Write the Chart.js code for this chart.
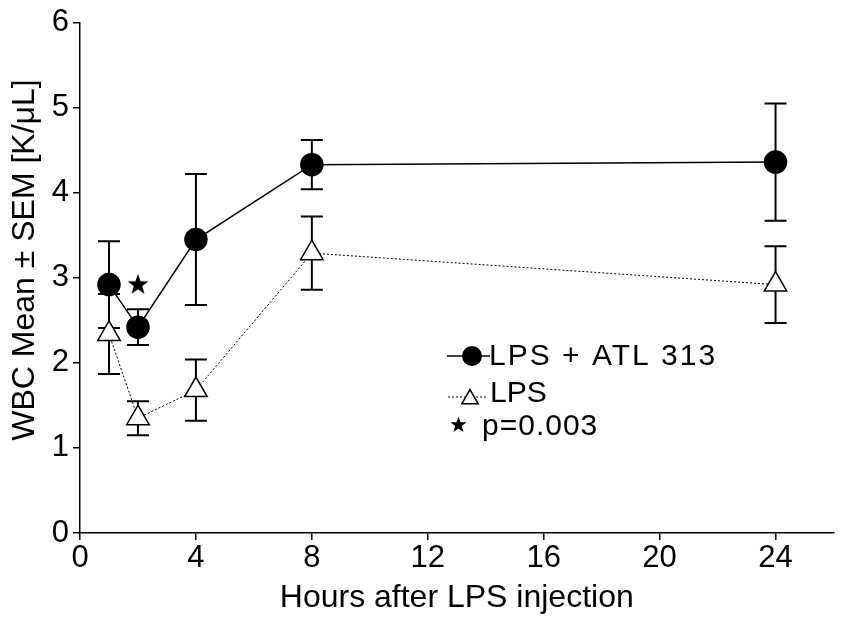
<!DOCTYPE html>
<html>
<head>
<meta charset="utf-8">
<script src="https://cdn.jsdelivr.net/npm/chart.js@4.4.0/dist/chart.umd.min.js"></script>
<style>
  html, body { margin: 0; padding: 0; background: #fff; }
  #wrap { width: 848px; height: 628px; }
</style>
</head>
<body>
<div id="wrap"><canvas id="myChart1"></canvas></div>
<script>
// data
let hours = [1, 2, 4, 8, 24];
let atlMean = [2.92, 2.42, 3.45, 4.33, 4.36];
let atlSem = [0.51, 0.21, 0.77, 0.29, 0.69];
let lpsMean = [2.34, 1.35, 1.68, 3.29, 2.92];
let lpsSem = [0.47, 0.2, 0.36, 0.43, 0.45];
let sigHour = [2];
let sigMark = [2.93];
let xTicks = [0, 4, 8, 12, 16, 20, 24];

const FONT = 'Liberation Sans, Arial, sans-serif';

function starPath(c, cx, cy, R) {
    let r = R * 0.4;
    c.beginPath();
    for (let i = 0; i < 10; i++) {
        let a = -Math.PI / 2 + i * Math.PI / 5;
        let rr = i % 2 === 0 ? R : r;
        let px = cx + Math.cos(a) * rr, py = cy + Math.sin(a) * rr;
        if (i === 0) c.moveTo(px, py); else c.lineTo(px, py);
    }
    c.closePath();
    c.fillStyle = '#000';
    c.fill();
}

let starImg = document.createElement('canvas');
starImg.width = 24; starImg.height = 24;
starPath(starImg.getContext('2d'), 12, 13, 11);

// error bars, drawn under the markers
const errorBars = {
    id: 'errorBars',
    beforeDatasetsDraw(chart) {
        let c = chart.ctx, xs = chart.scales.x, ys = chart.scales.y;
        c.save();
        c.strokeStyle = '#000';
        c.lineWidth = 2;
        [[atlMean, atlSem], [lpsMean, lpsSem]].forEach(([m, s]) => {
            hours.forEach((h, i) => {
                let px = xs.getPixelForValue(h);
                let top = ys.getPixelForValue(m[i] + s[i]);
                let bot = ys.getPixelForValue(m[i] - s[i]);
                c.beginPath();
                c.moveTo(px, top); c.lineTo(px, bot);
                c.moveTo(px - 11, top); c.lineTo(px + 11, top);
                c.moveTo(px - 11, bot); c.lineTo(px + 11, bot);
                c.stroke();
            });
        });
        c.restore();
    }
};

// y title (sits a little above the axis middle) and legend box
const extras = {
    id: 'extras',
    afterDraw(chart) {
        let c = chart.ctx;
        c.save();
        c.fillStyle = '#000';
        c.translate(25, 260);
        c.rotate(-Math.PI / 2);
        c.font = '32px ' + FONT;
        c.textAlign = 'center';
        c.textBaseline = 'middle';
        c.fillText('WBC Mean \u00b1 SEM [K/\u03bcL]', 0, 0);
        c.restore();

        c.save();
        c.strokeStyle = '#000';
        c.fillStyle = '#000';
        c.font = '30px ' + FONT;
        c.textBaseline = 'middle';
        // row 1
        c.lineWidth = 1.5;
        c.beginPath(); c.moveTo(447, 356); c.lineTo(490, 356); c.stroke();
        c.beginPath(); c.arc(472, 356, 10, 0, Math.PI * 2); c.fill();
        c.letterSpacing = '2px';
        c.fillText('LPS + ATL 313', 489, 357);
        c.letterSpacing = '0px';
        // row 2
        c.lineWidth = 1;
        c.setLineDash([2, 2]);
        c.beginPath(); c.moveTo(448, 397); c.lineTo(486, 397); c.stroke();
        c.setLineDash([]);
        let r = 9.5, cx = 470, cy = 399;
        c.beginPath();
        c.moveTo(cx, cy - r);
        c.lineTo(cx + r * 0.866, cy + r / 2);
        c.lineTo(cx - r * 0.866, cy + r / 2);
        c.closePath();
        c.fillStyle = '#fff'; c.fill();
        c.lineWidth = 1.5; c.stroke();
        c.fillStyle = '#000';
        c.fillText('LPS', 490, 394);
        // row 3
        starPath(c, 458.5, 425, 8.5);
        c.letterSpacing = '1px';
        c.fillText('p=0.003', 482, 427);
        c.restore();
    }
};

let ctx = document.getElementById('myChart1').getContext('2d');
let myChart1 = new Chart(ctx, {
    type: 'scatter',
    data: {
        datasets: [{
            label: 'LPS + ATL 313',
            data: hours.map((h, i) => ({ x: h, y: atlMean[i] })),
            showLine: true,
            borderColor: '#000',
            borderWidth: 1.5,
            pointStyle: 'circle',
            pointRadius: 11,
            pointBackgroundColor: '#000',
            pointBorderColor: '#000',
            order: 1
        }, {
            label: 'LPS',
            data: hours.map((h, i) => ({ x: h, y: lpsMean[i] })),
            showLine: true,
            borderColor: '#000',
            borderWidth: 1,
            borderDash: [2, 2],
            pointStyle: 'triangle',
            pointRadius: 13,
            pointBackgroundColor: '#fff',
            pointBorderColor: '#000',
            pointBorderWidth: 1.5,
            order: 2
        }, {
            label: 'p=0.003',
            data: sigHour.map((h, i) => ({ x: h, y: sigMark[i] })),
            pointStyle: starImg,
            order: 0
        }]
    },
    options: {
        responsive: true,
        maintainAspectRatio: false,
        animation: false,
        layout: { padding: { left: 0, right: 10, top: 21, bottom: 0 } },
        plugins: {
            legend: { display: false },
            tooltip: { enabled: false }
        },
        scales: {
            x: {
                type: 'linear',
                min: 0,
                max: 26,
                afterBuildTicks: (scale) => { scale.ticks = xTicks.map(v => ({ value: v })); },
                afterFit: (scale) => { scale.height = 95; },
                grid: { drawOnChartArea: false, color: '#000', tickLength: 7, lineWidth: 1.5 },
                border: { color: '#000', width: 1.5 },
                ticks: { color: '#000', font: { family: FONT, size: 31 }, padding: 0, maxRotation: 0 },
                title: { display: true, text: 'Hours after LPS injection', color: '#000', font: { family: FONT, size: 32 }, padding: { top: 0, bottom: 11 } }
            },
            y: {
                min: 0,
                max: 6,
                afterFit: (scale) => { scale.width = 80; },
                grid: { drawOnChartArea: false, color: '#000', tickLength: 7, lineWidth: 1.5 },
                border: { color: '#000', width: 1.5 },
                ticks: { stepSize: 1, color: '#000', font: { family: FONT, size: 31 }, padding: 4 }
            }
        }
    },
    plugins: [errorBars, extras]
});
</script>
</body>
</html>
